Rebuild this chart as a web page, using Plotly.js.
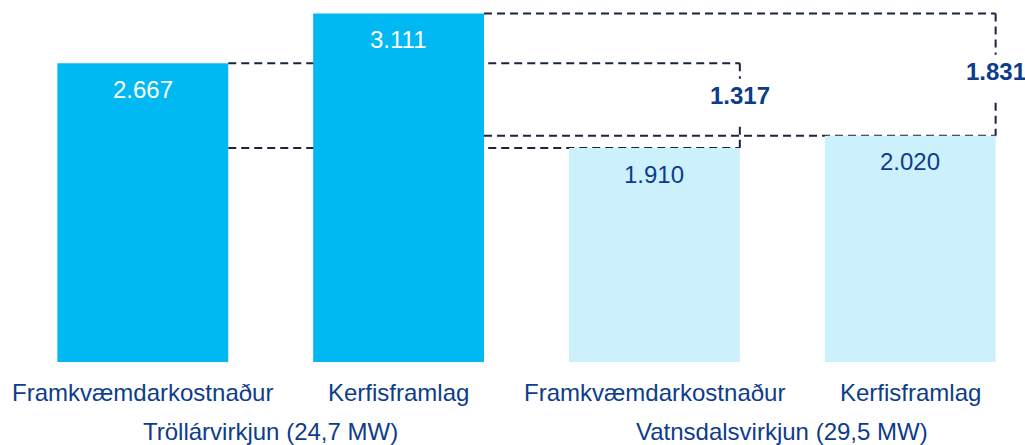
<!DOCTYPE html>
<html>
<head>
<meta charset="utf-8">
<script src="https://cdn.plot.ly/plotly-3.0.1.min.js"></script>
<style>html,body{margin:0;padding:0;background:#fff;}#chart{width:1025px;height:445px;}</style>
</head>
<body>
<div id="chart"></div>
<script>
// Data
const groups = ['Tröllárvirkjun (24,7 MW)', 'Vatnsdalsvirkjun (29,5 MW)'];
const categories = ['Framkvæmdarkostnaður', 'Kerfisframlag', 'Framkvæmdarkostnaður', 'Kerfisframlag'];
const groupOfBar = [0, 0, 1, 1];
const values = [2.667, 3.111, 1.910, 2.020];
const valueLabels = ['2.667', '3.111', '1.910', '2.020'];
// comparison brackets: from bar, to bar, label
const bracketFrom = [0, 1];
const bracketTo = [2, 3];
const bracketLabels = ['1.317', '1.831'];

// Styles
const barColors = ['#00B9F2', '#00B9F2', '#CCF1FD', '#CCF1FD'];
const labelColors = ['#FFFFFF', '#FFFFFF', '#0E3C8C', '#0E3C8C'];
const textBlue = '#0E3C8C';
const lineColor = '#18253A';
const barWidth = 0.668;
const pxPerUnit = 112;
const bracketLabelShift = [10, 3];   // px above midpoint
const gapAbove = 17, gapBelow = 31;  // px gap in vertical line around label
const FONT = 'Liberation Sans, Arial, sans-serif';
const FS = 24;

const xs = values.map((_, i) => i);

const trace = {
  type: 'bar',
  x: xs,
  y: values,
  width: barWidth,
  marker: {color: barColors, line: {width: 0}},
  hoverinfo: 'skip'
};

const shapes = [];
const annotations = [];
const lineStyle = {color: lineColor, width: 2, dash: '8px,5px'};

bracketFrom.forEach((a, k) => {
  const b = bracketTo[k];
  const xStart = a + barWidth / 2;
  const xEnd = b + barWidth / 2;
  const yc = (values[a] + values[b]) / 2 + bracketLabelShift[k] / pxPerUnit;
  shapes.push({type: 'line', layer: 'below', xref: 'x', yref: 'y', x0: xStart, x1: xEnd, y0: values[a], y1: values[a], line: lineStyle});
  shapes.push({type: 'line', layer: 'below', xref: 'x', yref: 'y', x0: xStart, x1: xEnd, y0: values[b], y1: values[b], line: lineStyle});
  shapes.push({type: 'line', layer: 'below', xref: 'x', yref: 'y', x0: xEnd, x1: xEnd, y0: values[a], y1: yc + gapAbove / pxPerUnit, line: lineStyle});
  shapes.push({type: 'line', layer: 'below', xref: 'x', yref: 'y', x0: xEnd, x1: xEnd, y0: yc - gapBelow / pxPerUnit, y1: values[b], line: lineStyle});
  annotations.push({
    x: xEnd, y: yc, xref: 'x', yref: 'y',
    text: '<b>' + bracketLabels[k] + '</b>', showarrow: false,
    xanchor: 'center', yanchor: 'middle',
    font: {family: FONT, size: FS, color: textBlue}
  });
});

values.forEach((v, i) => {
  annotations.push({
    x: i, y: v, xref: 'x', yref: 'y', text: valueLabels[i], showarrow: false,
    xanchor: 'center', yanchor: 'middle', yshift: -26,
    font: {family: FONT, size: FS, color: labelColors[i]}
  });
  annotations.push({
    x: i, y: 0, xref: 'x', yref: 'y', text: categories[i], showarrow: false,
    xanchor: 'center', yanchor: 'middle', yshift: -30,
    font: {family: FONT, size: FS, color: textBlue}
  });
});

groups.forEach((g, gi) => {
  const idx = xs.filter(i => groupOfBar[i] === gi);
  const cx = idx.reduce((s, v) => s + v, 0) / idx.length;
  annotations.push({
    x: cx, y: 0, xref: 'x', yref: 'y', text: g, showarrow: false,
    xanchor: 'center', yanchor: 'middle', yshift: -69,
    font: {family: FONT, size: FS, color: textBlue}
  });
});

const layout = {
  width: 1025, height: 445,
  margin: {l: 0, r: 0, t: 0, b: 83, pad: 0},
  paper_bgcolor: '#FFFFFF', plot_bgcolor: '#FFFFFF',
  showlegend: false,
  font: {family: FONT, color: textBlue},
  xaxis: {range: [-0.5583, 3.4488], showgrid: false, zeroline: false, showline: false, showticklabels: false, ticks: '', fixedrange: true},
  yaxis: {range: [0, 362 / pxPerUnit], showgrid: false, zeroline: false, showline: false, showticklabels: false, ticks: '', fixedrange: true},
  shapes: shapes,
  annotations: annotations
};

Plotly.newPlot('chart', [trace], layout, {displayModeBar: false, staticPlot: true});
</script>
</body>
</html>
